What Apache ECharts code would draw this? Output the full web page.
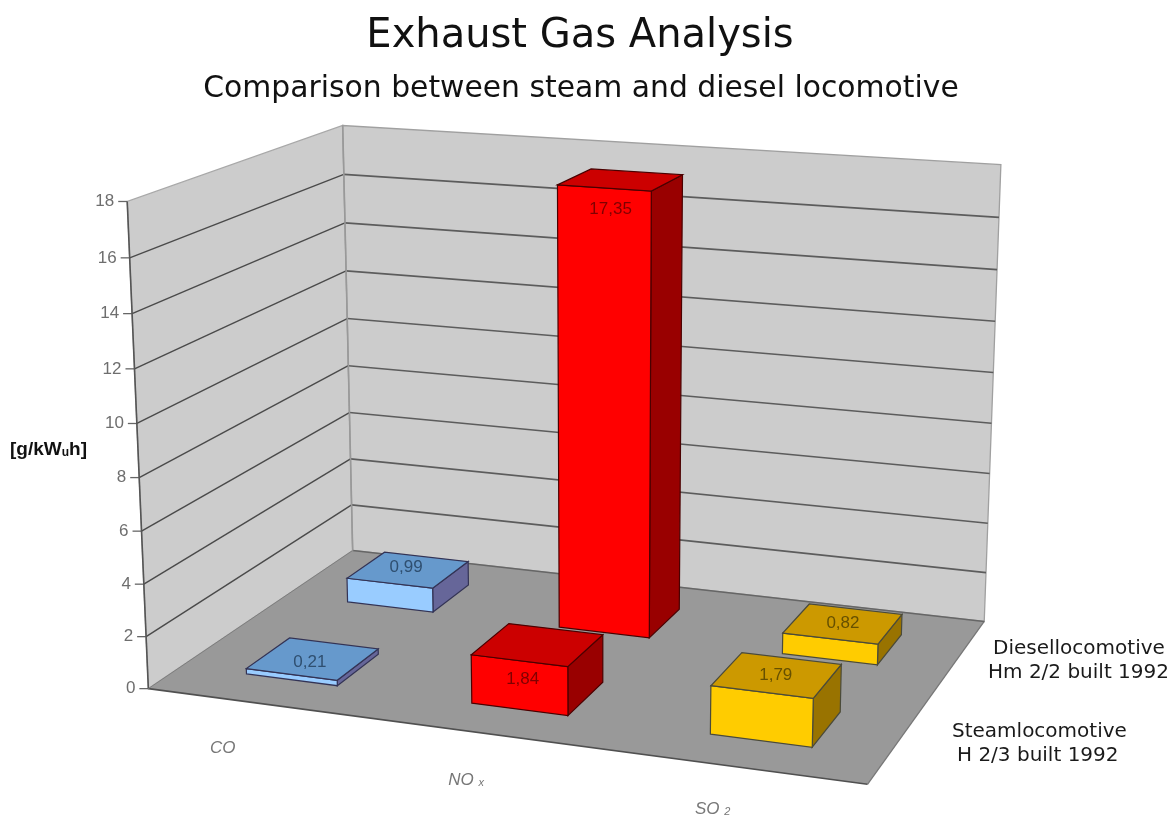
<!DOCTYPE html>
<html>
<head>
<meta charset="utf-8">
<style>html,body{margin:0;padding:0;background:#fff}#c{width:1175px;height:817px;filter:blur(0.45px)}</style>
<script src="https://cdn.jsdelivr.net/npm/echarts@6/dist/echarts.min.js"></script>
</head>
<body>
<div id="c"></div>
<script>
// ---- data ----
const categories = ['CO', 'NOx', 'SO2'];
const categoryLabels = ['CO', 'NO {sub|x}', 'SO {sub|2}'];
const steamValues = [0.21, 1.84, 1.79];
const dieselValues = [0.99, 17.35, 0.82];
const yTicks = [0, 2, 4, 6, 8, 10, 12, 14, 16, 18];

// ---- label nudges (pixels from the projected centre of a bar's top / of a category's front edge) ----
const steamNudge = [[-3, 4], [-15, 35], [-1, 0]];
const dieselNudge = [[-2, -3], [-10, 30], [0, 0]];
const categoryNudge = [[-37, 45], [-26, 46], [-26, 42]];

// ---- 3D frame: known points of the box, (u, depth, height) -> (px, py) ----
const frameAnchors = [
  [0, 0, 0, 148, 687], [1, 0, 0, 868, 785], [0, 1, 0, 353, 552], [1, 1, 0, 984, 621],
  [0, 0, 1, 127, 202], [0, 1, 1, 343, 125], [1, 1, 1, 1001, 165],
  [0, 0, 0.5556, 137, 424], [0, 1, 0.5556, 347, 318], [1, 1, 0.5556, 993, 372]
];
function fitProjection(anchors) {
  const n = 11, A = [], R = [];
  for (let i = 0; i < n; i++) { A.push(new Array(n).fill(0)); R.push(0); }
  const add = (row, rhs) => {
    for (let i = 0; i < n; i++) {
      for (let j = 0; j < n; j++) A[i][j] += row[i] * row[j];
      R[i] += row[i] * rhs;
    }
  };
  anchors.forEach(([x, y, z, px, py]) => {
    add([x, y, z, 1, 0, 0, 0, 0, -px * x, -px * y, -px * z], px);
    add([0, 0, 0, 0, x, y, z, 1, -py * x, -py * y, -py * z], py);
  });
  for (let i = 0; i < n; i++) {
    let p = i;
    for (let k = i + 1; k < n; k++) if (Math.abs(A[k][i]) > Math.abs(A[p][i])) p = k;
    [A[i], A[p]] = [A[p], A[i]]; [R[i], R[p]] = [R[p], R[i]];
    for (let k = 0; k < n; k++) {
      if (k === i) continue;
      const f = A[k][i] / A[i][i];
      for (let j = i; j < n; j++) A[k][j] -= f * A[i][j];
      R[k] -= f * R[i];
    }
  }
  return R.map((r, i) => r / A[i][i]);
}
const M = fitProjection(frameAnchors);
function project(u, d, h) {
  const w = M[8] * u + M[9] * d + M[10] * h + 1;
  return [(M[0] * u + M[1] * d + M[2] * h + M[3]) / w, (M[4] * u + M[5] * d + M[6] * h + M[7]) / w];
}

const BAR_FRAC = 0.41;
const CELL_U = 1 / categories.length;
const CELL_D = 1 / 2;

// turn axis scale output into box coordinates
function toBox(params, px) {
  const cs = params.coordSys;
  return [(px[0] - cs.x) / cs.width, (cs.y + cs.height - px[1]) / cs.height];
}
const poly = (points, fill, stroke, lw) => ({ type: 'polygon', silent: true, shape: { points }, style: { fill, stroke, lineWidth: lw === undefined ? 1 : lw } });
const line = (a, b, stroke, lw) => ({ type: 'line', silent: true, shape: { x1: a[0], y1: a[1], x2: b[0], y2: b[1] }, style: { stroke, lineWidth: lw || 1 } });

function renderFrame(params, api) {
  const c = [];
  c.push(poly([project(0,0,0), project(0,1,0), project(0,1,1), project(0,0,1)], '#cccccc', '#a8a8a8', 1.3));
  c.push(poly([project(0,1,0), project(1,1,0), project(1,1,1), project(0,1,1)], '#cccccc', '#a0a0a0', 1.3));
  c.push(poly([project(0,0,0), project(1,0,0), project(1,1,0), project(0,1,0)], '#999999', null, 0));
  yTicks.forEach(t => {
    const h = toBox(params, api.coord([0, t]))[1];
    const f = project(0, 0, h), b = project(0, 1, h), r = project(1, 1, h);
    if (t > 0 && t < yTicks[yTicks.length - 1]) {
      c.push(line(f, b, '#4a4a4a', 1.4));
      c.push(line(b, r, '#5c5c5c', 1.7));
    }
    c.push(line([f[0] - 9, f[1]], f, '#666666', 1.3));
    c.push({ type: 'text', silent: true, style: { x: f[0] - 13, y: f[1], text: String(t), fill: '#6e6e6e', font: '17px "Liberation Sans"', align: 'right', verticalAlign: 'middle' } });
  });
  c.push(line(project(0,0,0), project(0,0,1), '#555555', 1.6));
  c.push(line(project(0,0,0), project(1,0,0), '#505050', 1.6));
  c.push(line(project(1,0,0), project(1,1,0), '#777777', 1.3));
  c.push(line(project(0,1,0), project(1,1,0), '#666666', 1.7));
  c.push(line(project(0,0,0), project(0,1,0), '#7d7d7d', 1));
  c.push(line(project(0,1,0), project(0,1,1), '#999999', 1.6));
  categoryLabels.forEach((lab, i) => {
    const u = toBox(params, api.coord([i, 0]))[0];
    const p = project(u, 0, 0);
    const n = categoryNudge[i];
    c.push({ type: 'text', silent: true, style: { x: p[0] + n[0], y: p[1] + n[1], text: lab, fill: '#777777', font: 'italic 17px "Liberation Sans"', align: 'center', verticalAlign: 'middle',
      rich: { sub: { font: 'italic 11px "Liberation Sans"', fill: '#777777', verticalAlign: 'bottom', padding: [6, 0, 0, 0] } } } });
  });
  return { type: 'group', children: c };
}

function barRenderer(depthIndex, colors, nudges) {
  return function (params, api) {
    const i = api.value(0), v = api.value(1);
    const [uc, h] = toBox(params, api.coord([i, v]));
    const dc = (depthIndex + 0.5) * CELL_D;
    const col = colors[i];
    const u0 = uc - CELL_U * BAR_FRAC / 2, u1 = uc + CELL_U * BAR_FRAC / 2;
    const d0 = dc - CELL_D * BAR_FRAC / 2, d1 = dc + CELL_D * BAR_FRAC / 2;
    const edge = col.edge;
    const top = project(uc, dc, h);
    const n = nudges[i];
    return { type: 'group', children: [
      poly([project(u1,d0,0), project(u1,d1,0), project(u1,d1,h), project(u1,d0,h)], col.side, edge, 1.2),
      poly([project(u0,d0,0), project(u1,d0,0), project(u1,d0,h), project(u0,d0,h)], col.front, edge, 1.2),
      poly([project(u0,d0,h), project(u1,d0,h), project(u1,d1,h), project(u0,d1,h)], col.top, edge, 1.2),
      { type: 'text', silent: true, style: { x: top[0] + n[0], y: top[1] + n[1], text: v.toFixed(2).replace('.', ','), fill: col.text, font: '17px "Liberation Sans"', align: 'center', verticalAlign: 'middle' } }
    ] };
  };
}

const blue = { front: '#99ccff', top: '#6699cc', side: '#666699', edge: '#333355', text: '#2f4f70' };
const red = { front: '#ff0000', top: '#cc0000', side: '#990000', edge: '#4a0000', text: '#800000' };
const gold = { front: '#ffcc00', top: '#cc9900', side: '#997300', edge: '#4a4a3a', text: '#665000' };
const barColors = [blue, red, gold];

const labelFont = '20px "DejaVu Sans"';

const chart = echarts.init(document.getElementById('c'));
chart.setOption({
  animation: false,
  backgroundColor: '#ffffff',
  title: [
    { text: 'Exhaust Gas Analysis', left: 575, top: 12, textAlign: 'center', textStyle: { fontFamily: 'DejaVu Sans', fontWeight: 'normal', fontSize: 40, color: '#111' } },
    { text: 'Comparison between steam and diesel locomotive', left: 576, top: 69, textAlign: 'center', textStyle: { fontFamily: 'DejaVu Sans', fontWeight: 'normal', fontSize: 29.8, color: '#111' } }
  ],
  grid: { left: 100, right: 100, top: 100, bottom: 100, show: false },
  xAxis: { type: 'category', data: categories, show: false },
  yAxis: { type: 'value', min: 0, max: 18, interval: 2, show: false },
  tooltip: { show: false },
  series: [
    { type: 'custom', name: 'frame', data: [[0, 0]], renderItem: renderFrame, silent: true, z: 1 },
    { type: 'custom', name: 'Diesellocomotive Hm 2/2 built 1992', data: dieselValues.map((v, i) => [i, v]), renderItem: barRenderer(1, barColors, dieselNudge), silent: true, z: 2 },
    { type: 'custom', name: 'Steamlocomotive H 2/3 built 1992', data: steamValues.map((v, i) => [i, v]), renderItem: barRenderer(0, barColors, steamNudge), silent: true, z: 3 }
  ],
  graphic: [
    { type: 'text', left: 10, top: 440, silent: true, style: { text: '[g/kW{s|u}h]', fill: '#111', font: 'bold 19px "Liberation Sans"', rich: { s: { font: 'bold 12px "Liberation Sans"', fill: '#111', verticalAlign: 'bottom', padding: [7, 0, 0, 0] } } } },
    { type: 'text', left: 993, top: 639, silent: true, style: { text: 'Diesellocomotive', fill: '#1a1a1a', font: labelFont } },
    { type: 'text', left: 988, top: 663, silent: true, style: { text: 'Hm 2/2 built 1992', fill: '#1a1a1a', font: labelFont } },
    { type: 'text', left: 952, top: 722, silent: true, style: { text: 'Steamlocomotive', fill: '#1a1a1a', font: labelFont } },
    { type: 'text', left: 957, top: 746, silent: true, style: { text: 'H 2/3 built 1992', fill: '#1a1a1a', font: labelFont } }
  ]
});
</script>
</body>
</html>
